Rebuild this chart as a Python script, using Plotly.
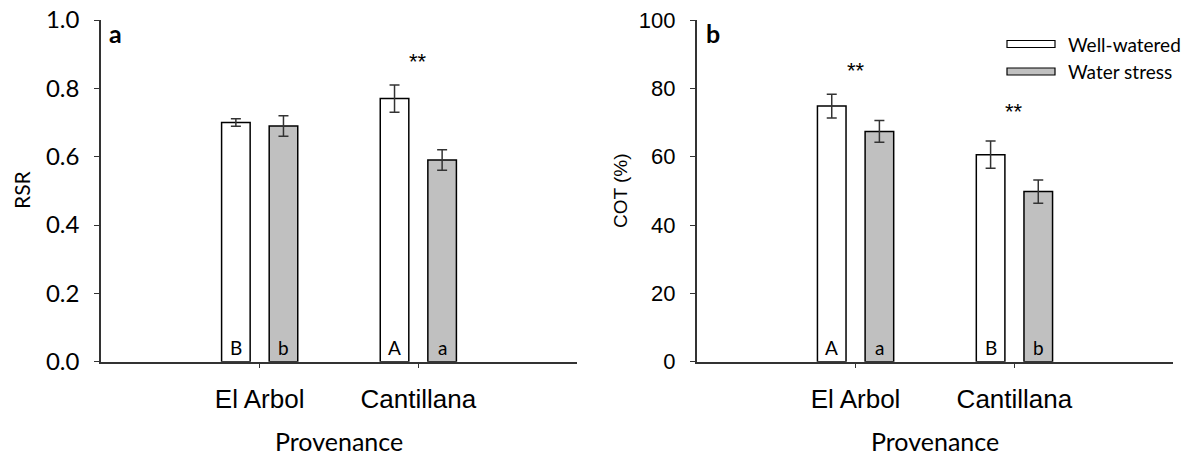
import plotly.graph_objects as go

# ---- data ----
provenances = ["El Arbol", "Cantillana"]
series_names = ["Well-watered", "Water stress"]

rsr_ww = [0.70, 0.77]
rsr_ww_err = [0.011, 0.040]
rsr_ws = [0.69, 0.59]
rsr_ws_err = [0.030, 0.030]
rsr_letters_ww = ["B", "A"]
rsr_letters_ws = ["b", "a"]
rsr_sig = ["", "**"]
rsr_sig_y = [None, 0.88]

cot_ww = [74.8, 60.6]
cot_ww_err = [3.5, 4.0]
cot_ws = [67.4, 49.8]
cot_ws_err = [3.2, 3.4]
cot_letters_ww = ["A", "B"]
cot_letters_ws = ["a", "b"]
cot_sig = ["**", "**"]
cot_sig_y = [85.2, 73.2]

rsr_ticks = [0.0, 0.2, 0.4, 0.6, 0.8, 1.0]
cot_ticks = [0, 20, 40, 60, 80, 100]

# ---- styles ----
W, H = 1190, 458
fills = ["white", "#c0c0c0"]
CAL = "Lato, 'Noto Sans', sans-serif"
ARI = "'Liberation Sans', Arial, sans-serif"
AXC = "#333333"

fig = go.Figure()

panels = [
    ("x", "y", [rsr_ww, rsr_ws], [rsr_ww_err, rsr_ws_err], [rsr_letters_ww, rsr_letters_ws], rsr_sig, rsr_sig_y),
    ("x2", "y2", [cot_ww, cot_ws], [cot_ww_err, cot_ws_err], [cot_letters_ww, cot_letters_ws], cot_sig, cot_sig_y),
]

for xa, ya, vals, errs, letters, sig, sig_y in panels:
    for i in range(2):
        fig.add_trace(go.Bar(
            x=provenances, y=vals[i], name=series_names[i],
            xaxis=xa, yaxis=ya, showlegend=False,
            marker=dict(color=fills[i], line=dict(color="black", width=1.5)),
            error_y=dict(type="data", array=errs[i], visible=True,
                         color="#333333", thickness=1.5, width=5),
            offsetgroup=str(i),
        ))
    # letters at bar bottoms
    for i, off in enumerate([-0.15, 0.15]):
        for j, p in enumerate(provenances):
            fig.add_annotation(x=j + off, y=0, xref=xa, yref=ya, text=letters[i][j],
                               showarrow=False, xanchor="center", yanchor="bottom", yshift=1,
                               font=dict(family=CAL, size=19, color="black"))
    # significance stars
    for j, p in enumerate(provenances):
        if sig[j]:
            fig.add_annotation(x=j, y=sig_y[j], xref=xa, yref=ya, text=sig[j],
                               showarrow=False, xanchor="center", yanchor="middle",
                               font=dict(family=ARI, size=22, color="black"))

xdom1 = [101 / W, 577 / W]
xdom2 = [696.7 / W, 1173.3 / W]
ydom = [1 - 361.7 / H, 1 - 20 / H]

xcommon = dict(type="category", range=[-1, 2], showline=True, linecolor=AXC, linewidth=1.5,
               ticks="outside", ticklen=5, tickcolor=AXC, tickwidth=1.2,
               showgrid=False, zeroline=False, automargin=False,
               tickfont=dict(family=ARI, size=26, color="black"), ticklabelstandoff=8)
ycommon = dict(showline=True, linecolor=AXC, linewidth=1.5, ticks="outside", ticklen=5,
               tickcolor=AXC, tickwidth=1.2, showgrid=False, zeroline=False,
               automargin=False, ticklabelstandoff=10)

fig.update_layout(
    width=W, height=H, margin=dict(l=0, r=0, t=0, b=0, autoexpand=False),
    paper_bgcolor="white", plot_bgcolor="white",
    barmode="group", bargap=0.4, bargroupgap=0.4,
    showlegend=False,
    xaxis=dict(domain=xdom1, anchor="y", **xcommon),
    xaxis2=dict(domain=xdom2, anchor="y2", **xcommon),
    yaxis=dict(domain=ydom, anchor="x", range=[0, 1.0], tickvals=rsr_ticks,
               ticktext=[f"{v:.1f}" for v in rsr_ticks],
               tickfont=dict(family=CAL, size=24, color="black"), **ycommon),
    yaxis2=dict(domain=ydom, anchor="x2", range=[0, 100], tickvals=cot_ticks,
                tickfont=dict(family=ARI, size=22, color="black"), **ycommon),
)

def note(xp, yp, text, font, **kw):
    fig.add_annotation(x=xp / W, y=1 - yp / H, xref="paper", yref="paper", text=text,
                       showarrow=False, yanchor="middle", font=font, **kw)

# axis titles and panel labels
for xc in [339, 935]:
    note(xc, 441, "Provenance", dict(family=CAL, size=25, color="black"), xanchor="center")
note(22, 190, "RSR", dict(family=CAL, size=21, color="black"), xanchor="center", textangle=-90)
note(621, 191, "COT (%)", dict(family=ARI, size=19, color="black"), xanchor="center", textangle=-90)
note(107, 33, "<b>a</b>", dict(family=CAL, size=25, color="black"), xanchor="left")
note(704, 33, "<b>b</b>", dict(family=CAL, size=25, color="black"), xanchor="left")

# custom legend (wide flat swatches like the original)
for i, nm in enumerate(series_names):
    yc = 44 + i * 27.5
    fig.add_shape(type="rect", xref="paper", yref="paper",
                  x0=1007 / W, x1=1055 / W, y0=1 - (yc + 3.5) / H, y1=1 - (yc - 3.5) / H,
                  fillcolor=fills[i], line=dict(color="black", width=1.2))
    note(1066, yc, nm, dict(family=CAL, size=19, color="black"), xanchor="left")

fig.write_html("out.html", config={"displayModeBar": False},
               post_script="document.body.style.margin='0';document.body.style.overflow='hidden';")
